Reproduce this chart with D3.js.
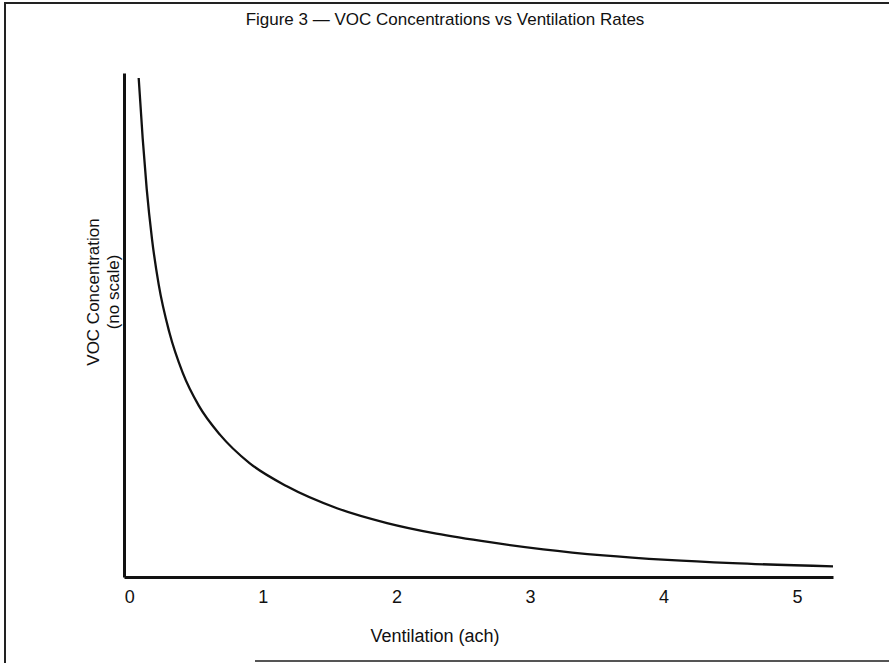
<!DOCTYPE html>
<meta charset="utf-8">
<style>
body { margin: 0; background: #fff; }
svg { display: block; }
.axis path { stroke: #111; stroke-width: 3px; }
.axis text { font-family: "Liberation Sans", Arial, sans-serif; font-size: 18px; fill: #111; }
.label { font-family: "Liberation Sans", Arial, sans-serif; font-size: 17px; fill: #111; }
.curve { fill: none; stroke: #111; stroke-width: 2.3px; }
.frame { stroke: #222; stroke-width: 2px; }
</style>
<body>
<script src="https://cdnjs.cloudflare.com/ajax/libs/d3/7.8.5/d3.min.js"></script>
<script>

// values (concentration has no scale, 0-100 of axis height)
var ventilation = [0.07, 0.10, 0.13, 0.17, 0.22, 0.30, 0.40, 0.52, 0.68, 0.90,
                   1.18, 1.56, 1.93, 2.30, 2.70, 3.10, 3.55, 4.03, 4.52, 5.27];
var concentration = [99.0, 87.0, 77.0, 67.0, 58.0, 48.5, 40.5, 34.0, 28.2, 22.6,
                     18.0, 13.6, 10.7, 8.6, 6.9, 5.5, 4.3, 3.4, 2.75, 2.1];
var xTicks = [0, 1, 2, 3, 4, 5];

var width = 889, height = 663;

var svg = d3.select("body").append("svg")
    .attr("width", width)
    .attr("height", height);

// page frame (scanned figure box)
svg.append("line").attr("class", "frame")
    .attr("x1", 4).attr("x2", width).attr("y1", 3).attr("y2", 3);
svg.append("line").attr("class", "frame")
    .attr("x1", 5).attr("x2", 5).attr("y1", 3).attr("y2", height);
svg.append("line").attr("class", "frame")
    .style("stroke", "#555")
    .attr("x1", 255).attr("x2", width).attr("y1", 661).attr("y2", 661);

// scales
var x = d3.scaleLinear().domain([-0.04, 5.27]).range([124, 833]);
var y = d3.scaleLinear().domain([0, 100]).range([577, 73]);

// x axis
svg.append("g")
    .attr("class", "axis")
    .attr("transform", "translate(0," + y(0) + ")")
    .call(d3.axisBottom(x)
        .tickValues(xTicks)
        .tickSize(0)
        .tickSizeOuter(0)
        .tickPadding(13)
        .tickFormat(d3.format("d")));

// y axis, no scale
svg.append("g")
    .attr("class", "axis")
    .attr("transform", "translate(" + x.range()[0] + ",0)")
    .call(d3.axisLeft(y).tickValues([]).tickSizeOuter(0));

// the curve
var line = d3.line()
    .x(function(d, i) { return x(ventilation[i]); })
    .y(function(d) { return y(d); })
    .curve(d3.curveMonotoneX);

svg.append("path")
    .datum(concentration)
    .attr("class", "curve")
    .attr("d", line);

// title
svg.append("text")
    .attr("class", "label")
    .attr("x", 445)
    .attr("y", 25)
    .style("text-anchor", "middle")
    .text("Figure 3 \u2014 VOC Concentrations vs Ventilation Rates");

// x label
svg.append("text")
    .attr("class", "label")
    .style("font-size", "18px")
    .attr("x", 435)
    .attr("y", 642)
    .style("text-anchor", "middle")
    .text("Ventilation (ach)");

// y label
svg.append("text")
    .attr("class", "label")
    .attr("transform", "translate(99,292) rotate(-90)")
    .style("text-anchor", "middle")
    .text("VOC Concentration");

svg.append("text")
    .attr("class", "label")
    .attr("transform", "translate(119,292) rotate(-90)")
    .style("text-anchor", "middle")
    .text("(no scale)");

</script>
</body>
